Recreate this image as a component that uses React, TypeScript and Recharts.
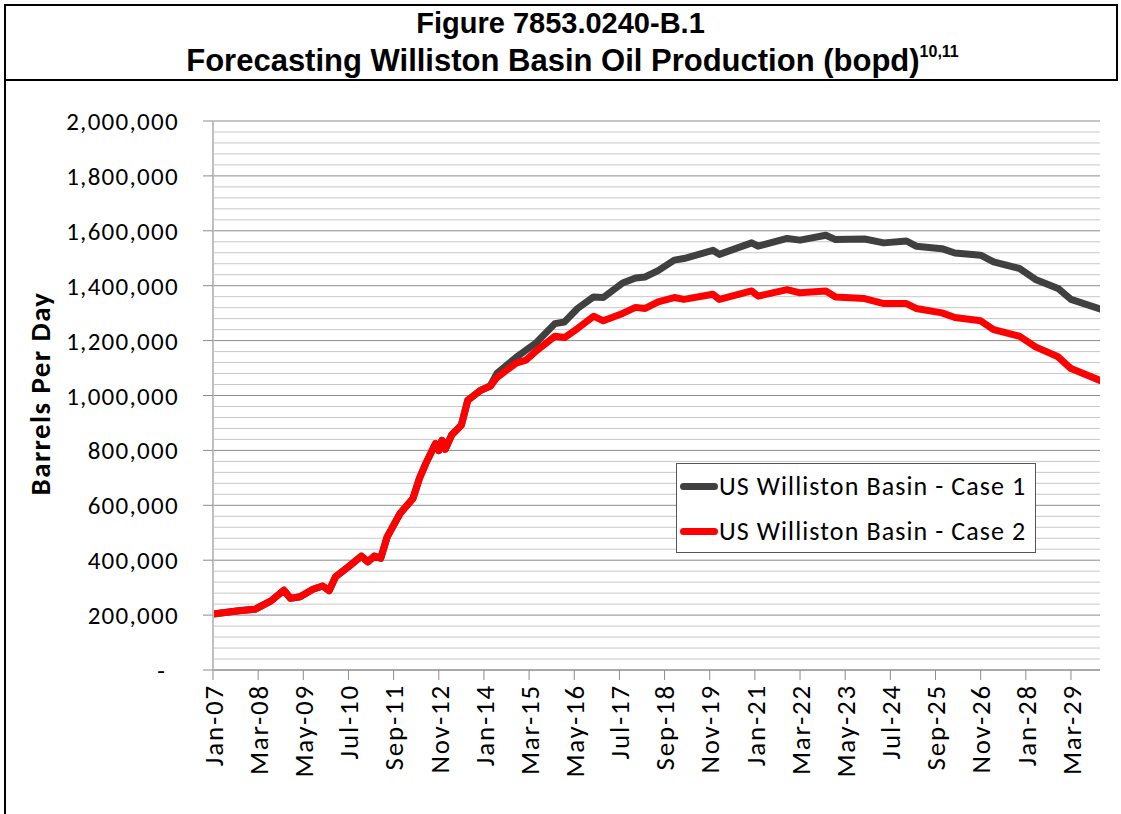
import React from 'react';
import { LineChart, Line, XAxis, YAxis, CartesianGrid } from 'recharts';

// Month index counted from Jan-2007 (0 = Jan-07)
const months = [0, 8, 13, 18, 22, 24, 27, 31, 34, 36, 38, 42, 46, 48, 50, 52, 54, 58, 62, 64, 66, 67, 69, 70, 71, 72, 74, 77, 79, 83, 86, 88, 91, 94, 97, 100, 106, 109, 113, 118, 121, 127, 131, 134, 138, 143, 146, 155, 157, 167, 169, 178, 182, 190, 193, 202, 208, 215, 218, 226, 230, 238, 242, 250, 255, 262, 266, 275];

const case1 = [204000, 216000, 221000, 252000, 291000, 261000, 267000, 294000, 306000, 289000, 340000, 376000, 415000, 394000, 415000, 407000, 485000, 570000, 625000, 698000, 753000, 777000, 825000, 799000, 837000, 804000, 856000, 892000, 983000, 1019000, 1036000, 1080000, 1110000, 1139000, 1165000, 1190000, 1262000, 1268000, 1317000, 1359000, 1357000, 1410000, 1428000, 1432000, 1455000, 1493000, 1499000, 1529000, 1514000, 1556000, 1544000, 1572000, 1566000, 1584000, 1568000, 1570000, 1556000, 1563000, 1544000, 1535000, 1519000, 1511000, 1487000, 1463000, 1423000, 1390000, 1350000, 1315000];

const case2 = [204000, 216000, 221000, 252000, 291000, 261000, 267000, 294000, 306000, 289000, 340000, 376000, 415000, 394000, 415000, 407000, 485000, 570000, 625000, 698000, 753000, 777000, 825000, 799000, 837000, 804000, 856000, 892000, 983000, 1019000, 1034000, 1065000, 1092000, 1118000, 1129000, 1160000, 1216000, 1211000, 1244000, 1289000, 1272000, 1299000, 1321000, 1317000, 1341000, 1357000, 1350000, 1369000, 1350000, 1381000, 1362000, 1386000, 1374000, 1381000, 1359000, 1353000, 1335000, 1335000, 1317000, 1301000, 1284000, 1272000, 1240000, 1216000, 1177000, 1141000, 1098000, 1055000];

const tickMonths = [0, 14, 28, 42, 56, 70, 84, 98, 112, 126, 140, 154, 168, 182, 196, 210, 224, 238, 252, 266];
const tickLabels = ['Jan-07', 'Mar-08', 'May-09', 'Jul-10', 'Sep-11', 'Nov-12', 'Jan-14', 'Mar-15', 'May-16', 'Jul-17', 'Sep-18', 'Nov-19', 'Jan-21', 'Mar-22', 'May-23', 'Jul-24', 'Sep-25', 'Nov-26', 'Jan-28', 'Mar-29'];

const yMajorTicks = [0, 200000, 400000, 600000, 800000, 1000000, 1200000, 1400000, 1600000, 1800000, 2000000];
const yMinorValues = [40000, 80000, 120000, 160000, 240000, 280000, 320000, 360000, 440000, 480000, 520000, 560000, 640000, 680000, 720000, 760000, 840000, 880000, 920000, 960000, 1040000, 1080000, 1120000, 1160000, 1240000, 1280000, 1320000, 1360000, 1440000, 1480000, 1520000, 1560000, 1640000, 1680000, 1720000, 1760000, 1840000, 1880000, 1920000, 1960000];

const seriesNames = ['US Williston Basin - Case 1', 'US Williston Basin - Case 2'];
const seriesColors = ['#404040', '#FF0000'];

const data = months.map((m, i) => ({ m, case1: case1[i], case2: case2[i] }));

const FONT = 'Carlito, Lato, "Open Sans", sans-serif';

const XTick = (props: any) => {
  const { x, y, payload } = props;
  const idx = tickMonths.indexOf(payload.value);
  const label = idx >= 0 ? tickLabels[idx] : '';
  return (
    <text x={x} y={y} transform={`rotate(-90, ${x}, ${y})`} textAnchor="end" dy="0.36em" fontSize={27} letterSpacing={1.8} fill="#000" fontFamily={FONT}>
      {label}
    </text>
  );
};

const YTick = (props: any) => {
  const { x, y, payload } = props;
  const v = payload.value as number;
  if (v === 0) {
    return (
      <text x={x - 14} y={y} textAnchor="end" dy="0.36em" fontSize={25} fill="#000" fontFamily={FONT}>-</text>
    );
  }
  return (
    <text x={x} y={y} textAnchor="end" dy="0.36em" fontSize={25} letterSpacing={1.3} fill="#000" fontFamily={FONT}>
      {v.toLocaleString('en-US')}
    </text>
  );
};

const YLabel = (props: any) => {
  const { viewBox } = props;
  const cy = viewBox.y + viewBox.height / 2 - 2;
  const cx = 40;
  return (
    <text x={cx} y={cy} transform={`rotate(-90, ${cx}, ${cy})`} textAnchor="middle" dy="0.36em" fontSize={29} letterSpacing={1.4} fontWeight="bold" fill="#000" fontFamily={FONT}>
      Barrels Per Day
    </text>
  );
};

export default function App() {
  return (
    <div style={{ position: 'absolute', left: 0, top: 0, width: 1121, height: 814, background: '#fff', overflow: 'hidden' }}>
      {/* frame */}
      <div style={{ position: 'absolute', left: 4, top: 4, width: 1114, height: 2, background: '#000' }} />
      <div style={{ position: 'absolute', left: 4, top: 79, width: 1114, height: 2, background: '#000' }} />
      <div style={{ position: 'absolute', left: 4, top: 4, width: 2, height: 820, background: '#000' }} />
      <div style={{ position: 'absolute', left: 1116, top: 4, width: 2, height: 77, background: '#000' }} />
      {/* title */}
      <div style={{ position: 'absolute', left: 0, top: 6, width: 1121, textAlign: 'center', fontFamily: '"Liberation Sans", Arial, sans-serif', fontWeight: 'bold', fontSize: 29, lineHeight: '34px', color: '#000' }}>
        Figure 7853.0240-B.1
      </div>
      <div style={{ position: 'absolute', left: 0, top: 44, width: 1121, textAlign: 'center', fontFamily: '"Liberation Sans", Arial, sans-serif', fontWeight: 'bold', fontSize: 31, lineHeight: '34px', color: '#000', whiteSpace: 'nowrap' }}>
        <span style={{ position: 'relative', left: 12 }}>
          Forecasting Williston Basin Oil Production (bopd)
          <sup style={{ fontSize: 16, lineHeight: 0, position: 'relative', top: -3 }}>10,11</sup>
        </span>
      </div>

      <div style={{ position: 'absolute', left: 0, top: 0 }}>
        <LineChart width={1121} height={814} data={data} margin={{ top: 121, right: 21, bottom: 24, left: 63 }}>
          <CartesianGrid vertical={false} horizontalValues={yMinorValues} stroke="#c8c8c8" strokeWidth={1} />
          <CartesianGrid vertical={false} horizontalValues={yMajorTicks} stroke="#8c8c8c" strokeWidth={1} />
          <XAxis
            type="number"
            dataKey="m"
            domain={[0, 275]}
            ticks={tickMonths}
            interval={0}
            tick={<XTick />}
            tickSize={10}
            tickMargin={4}
            height={120}
            axisLine={{ stroke: '#8c8c8c', strokeWidth: 1 }}
            tickLine={{ stroke: '#8c8c8c', strokeWidth: 1 }}
            allowDataOverflow
          />
          <YAxis
            type="number"
            domain={[0, 2000000]}
            ticks={yMajorTicks}
            interval={0}
            width={150}
            tick={<YTick />}
            tickSize={10}
            tickMargin={24}
            axisLine={{ stroke: '#bfbfbf', strokeWidth: 2 }}
            tickLine={{ stroke: '#8c8c8c', strokeWidth: 1 }}
            label={<YLabel />}
          />
          <Line type="linear" dataKey="case1" name={seriesNames[0]} stroke={seriesColors[0]} strokeWidth={7} dot={false} isAnimationActive={false} strokeLinejoin="round" strokeLinecap="round" />
          <Line type="linear" dataKey="case2" name={seriesNames[1]} stroke={seriesColors[1]} strokeWidth={7} dot={false} isAnimationActive={false} strokeLinejoin="round" strokeLinecap="round" />
        </LineChart>
      </div>

      {/* legend */}
      <div style={{ position: 'absolute', left: 676, top: 463, width: 358, height: 88, border: '1px solid #555', background: '#fff', fontFamily: FONT, fontSize: 26, letterSpacing: 1.1, color: '#000' }}>
        {seriesNames.map((n, i) => (
          <div key={n} style={{ position: 'absolute', left: 3, top: 6 + i * 45, height: 32, display: 'flex', alignItems: 'center', whiteSpace: 'nowrap' }}>
            <div style={{ width: 38, height: 7, borderRadius: 4, background: seriesColors[i], marginRight: 1 }} />
            <span>{n}</span>
          </div>
        ))}
      </div>
    </div>
  );
}
